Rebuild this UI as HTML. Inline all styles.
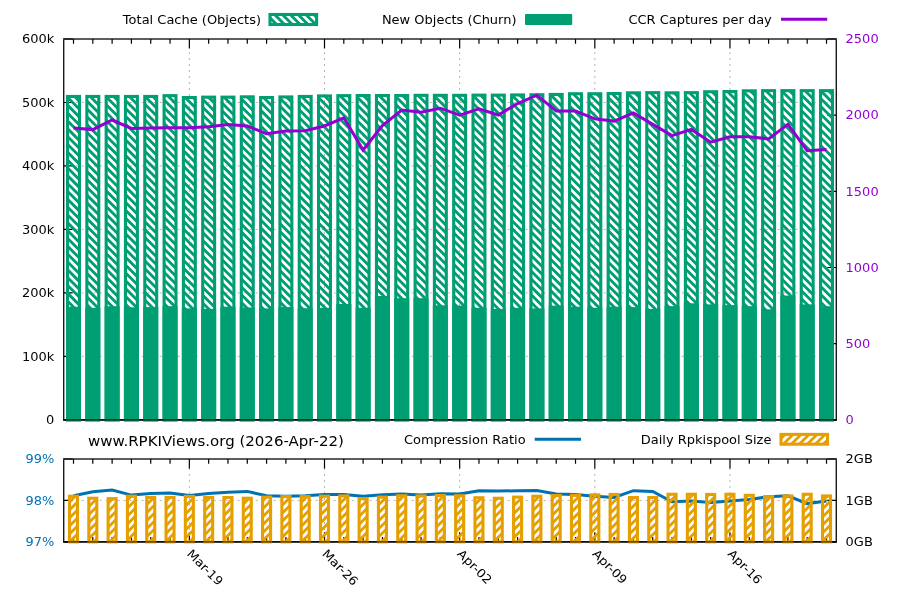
<!DOCTYPE html>
<html lang="en"><head><meta charset="utf-8"><title>RPKIViews statistics</title>
<style>html,body{margin:0;padding:0;background:#fff}svg{display:block}text{font-family:"DejaVu Sans","Liberation Sans",sans-serif;font-size:12px}</style></head><body>
<svg width="900" height="600" viewBox="0 0 900 600">
<defs>
<clipPath id="c1"><rect x="67.55" y="96.45" width="11.9" height="323.40"/><rect x="86.86" y="96.45" width="11.9" height="323.40"/><rect x="106.17" y="96.45" width="11.9" height="323.40"/><rect x="125.47" y="96.45" width="11.9" height="323.40"/><rect x="144.78" y="96.45" width="11.9" height="323.40"/><rect x="164.09" y="95.65" width="11.9" height="324.20"/><rect x="183.40" y="97.55" width="11.9" height="322.30"/><rect x="202.71" y="97.15" width="11.9" height="322.70"/><rect x="222.01" y="97.15" width="11.9" height="322.70"/><rect x="241.32" y="96.85" width="11.9" height="323.00"/><rect x="260.63" y="97.55" width="11.9" height="322.30"/><rect x="279.94" y="96.95" width="11.9" height="322.90"/><rect x="299.25" y="96.45" width="11.9" height="323.40"/><rect x="318.55" y="95.95" width="11.9" height="323.90"/><rect x="337.86" y="95.65" width="11.9" height="324.20"/><rect x="357.17" y="95.55" width="11.9" height="324.30"/><rect x="376.48" y="95.55" width="11.9" height="324.30"/><rect x="395.79" y="95.55" width="11.9" height="324.30"/><rect x="415.09" y="95.35" width="11.9" height="324.50"/><rect x="434.40" y="95.35" width="11.9" height="324.50"/><rect x="453.71" y="95.35" width="11.9" height="324.50"/><rect x="473.02" y="95.15" width="11.9" height="324.70"/><rect x="492.33" y="95.15" width="11.9" height="324.70"/><rect x="511.63" y="94.95" width="11.9" height="324.90"/><rect x="530.94" y="94.75" width="11.9" height="325.10"/><rect x="550.25" y="94.45" width="11.9" height="325.40"/><rect x="569.56" y="93.75" width="11.9" height="326.10"/><rect x="588.87" y="93.75" width="11.9" height="326.10"/><rect x="608.17" y="93.55" width="11.9" height="326.30"/><rect x="627.48" y="92.85" width="11.9" height="327.00"/><rect x="646.79" y="92.65" width="11.9" height="327.20"/><rect x="666.10" y="92.85" width="11.9" height="327.00"/><rect x="685.41" y="92.65" width="11.9" height="327.20"/><rect x="704.71" y="91.75" width="11.9" height="328.10"/><rect x="724.02" y="91.55" width="11.9" height="328.30"/><rect x="743.33" y="90.85" width="11.9" height="329.00"/><rect x="762.64" y="90.65" width="11.9" height="329.20"/><rect x="781.95" y="90.65" width="11.9" height="329.20"/><rect x="801.25" y="90.65" width="11.9" height="329.20"/><rect x="820.56" y="90.65" width="11.9" height="329.20"/></clipPath><clipPath id="c2"><rect x="69.50" y="496.25" width="8.0" height="45.60"/><rect x="88.81" y="498.25" width="8.0" height="43.60"/><rect x="108.12" y="498.65" width="8.0" height="43.20"/><rect x="127.42" y="496.25" width="8.0" height="45.60"/><rect x="146.73" y="497.55" width="8.0" height="44.30"/><rect x="166.04" y="497.55" width="8.0" height="44.30"/><rect x="185.35" y="496.45" width="8.0" height="45.40"/><rect x="204.66" y="497.55" width="8.0" height="44.30"/><rect x="223.96" y="497.55" width="8.0" height="44.30"/><rect x="243.27" y="498.25" width="8.0" height="43.60"/><rect x="262.58" y="497.15" width="8.0" height="44.70"/><rect x="281.89" y="496.65" width="8.0" height="45.20"/><rect x="301.20" y="496.65" width="8.0" height="45.20"/><rect x="320.50" y="496.25" width="8.0" height="45.60"/><rect x="339.81" y="495.95" width="8.0" height="45.90"/><rect x="359.12" y="498.65" width="8.0" height="43.20"/><rect x="378.43" y="497.15" width="8.0" height="44.70"/><rect x="397.74" y="495.75" width="8.0" height="46.10"/><rect x="417.04" y="495.95" width="8.0" height="45.90"/><rect x="436.35" y="495.55" width="8.0" height="46.30"/><rect x="455.66" y="495.75" width="8.0" height="46.10"/><rect x="474.97" y="497.75" width="8.0" height="44.10"/><rect x="494.28" y="498.25" width="8.0" height="43.60"/><rect x="513.58" y="497.15" width="8.0" height="44.70"/><rect x="532.89" y="496.25" width="8.0" height="45.60"/><rect x="552.20" y="495.55" width="8.0" height="46.30"/><rect x="571.51" y="495.35" width="8.0" height="46.50"/><rect x="590.82" y="494.85" width="8.0" height="47.00"/><rect x="610.12" y="494.45" width="8.0" height="47.40"/><rect x="629.43" y="497.55" width="8.0" height="44.30"/><rect x="648.74" y="497.55" width="8.0" height="44.30"/><rect x="668.05" y="494.25" width="8.0" height="47.60"/><rect x="687.36" y="494.25" width="8.0" height="47.60"/><rect x="706.66" y="494.45" width="8.0" height="47.40"/><rect x="725.97" y="494.25" width="8.0" height="47.60"/><rect x="745.28" y="495.35" width="8.0" height="46.50"/><rect x="764.59" y="496.65" width="8.0" height="45.20"/><rect x="783.90" y="495.95" width="8.0" height="45.90"/><rect x="803.20" y="494.25" width="8.0" height="47.60"/><rect x="822.51" y="495.95" width="8.0" height="45.90"/></clipPath>
<clipPath id="c3"><rect x="270" y="14.5" width="46.6" height="10"/></clipPath><clipPath id="c4"><rect x="781" y="434.4" width="46.5" height="9.8"/></clipPath>
</defs>
<rect width="900" height="600" fill="#fff"/>
<g id="grid1" stroke="#b2b2b2" stroke-width="1" stroke-dasharray="2 4" fill="none">
<path d="M75.7,356.38H836.3"/>
<path d="M75.7,292.90H836.3"/>
<path d="M75.7,229.42H836.3"/>
<path d="M75.7,165.95H836.3"/>
<path d="M75.7,102.48H836.3"/>
<path d="M189.35,52.0V409.85"/>
<path d="M324.50,52.0V409.85"/>
<path d="M459.66,52.0V409.85"/>
<path d="M594.82,52.0V409.85"/>
<path d="M729.97,52.0V409.85"/>
</g>
<path id="ticks1" d="M73.50,39.0v4.8M73.50,419.85v-4.8M92.81,39.0v4.8M92.81,419.85v-4.8M112.12,39.0v4.8M112.12,419.85v-4.8M131.42,39.0v4.8M131.42,419.85v-4.8M150.73,39.0v4.8M150.73,419.85v-4.8M170.04,39.0v4.8M170.04,419.85v-4.8M189.35,39.0v9.5M189.35,419.85v-9.5M208.66,39.0v4.8M208.66,419.85v-4.8M227.96,39.0v4.8M227.96,419.85v-4.8M247.27,39.0v4.8M247.27,419.85v-4.8M266.58,39.0v4.8M266.58,419.85v-4.8M285.89,39.0v4.8M285.89,419.85v-4.8M305.20,39.0v4.8M305.20,419.85v-4.8M324.50,39.0v9.5M324.50,419.85v-9.5M343.81,39.0v4.8M343.81,419.85v-4.8M363.12,39.0v4.8M363.12,419.85v-4.8M382.43,39.0v4.8M382.43,419.85v-4.8M401.74,39.0v4.8M401.74,419.85v-4.8M421.04,39.0v4.8M421.04,419.85v-4.8M440.35,39.0v4.8M440.35,419.85v-4.8M459.66,39.0v9.5M459.66,419.85v-9.5M478.97,39.0v4.8M478.97,419.85v-4.8M498.28,39.0v4.8M498.28,419.85v-4.8M517.58,39.0v4.8M517.58,419.85v-4.8M536.89,39.0v4.8M536.89,419.85v-4.8M556.20,39.0v4.8M556.20,419.85v-4.8M575.51,39.0v4.8M575.51,419.85v-4.8M594.82,39.0v9.5M594.82,419.85v-9.5M614.12,39.0v4.8M614.12,419.85v-4.8M633.43,39.0v4.8M633.43,419.85v-4.8M652.74,39.0v4.8M652.74,419.85v-4.8M672.05,39.0v4.8M672.05,419.85v-4.8M691.36,39.0v4.8M691.36,419.85v-4.8M710.66,39.0v4.8M710.66,419.85v-4.8M729.97,39.0v9.5M729.97,419.85v-9.5M749.28,39.0v4.8M749.28,419.85v-4.8M768.59,39.0v4.8M768.59,419.85v-4.8M787.90,39.0v4.8M787.90,419.85v-4.8M807.20,39.0v4.8M807.20,419.85v-4.8M826.51,39.0v4.8M826.51,419.85v-4.8M63.7,419.85h9M63.7,356.38h9M63.7,292.90h9M63.7,229.42h9M63.7,165.95h9M63.7,102.48h9M63.7,39.00h9M836.3,419.85h-9M836.3,343.68h-9M836.3,267.51h-9M836.3,191.34h-9M836.3,115.17h-9M836.3,39.00h-9" stroke="#000" stroke-width="1.2" fill="none"/>
<path d="M63.0,419.85H837.0" stroke="#000" stroke-opacity="0.85" stroke-width="1.7" fill="none"/>
<path d="M832.77,87.10L838.30,92.63M824.94,87.10L838.30,100.46M817.10,87.10L838.30,108.30M809.27,87.10L838.30,116.13M801.44,87.10L838.30,123.96M793.60,87.10L838.30,131.80M785.77,87.10L838.30,139.63M777.94,87.10L838.30,147.46M770.10,87.10L838.30,155.30M762.27,87.10L838.30,163.13M754.44,87.10L838.30,170.96M746.61,87.10L838.30,178.79M738.77,87.10L838.30,186.63M730.94,87.10L838.30,194.46M723.11,87.10L838.30,202.29M715.27,87.10L838.30,210.13M707.44,87.10L838.30,217.96M699.61,87.10L838.30,225.79M691.77,87.10L838.30,233.63M683.94,87.10L838.30,241.46M676.11,87.10L838.30,249.29M668.28,87.10L838.30,257.12M660.44,87.10L838.30,264.96M652.61,87.10L838.30,272.79M644.78,87.10L838.30,280.62M636.94,87.10L838.30,288.46M629.11,87.10L838.30,296.29M621.28,87.10L838.30,304.12M613.44,87.10L838.30,311.96M605.61,87.10L838.30,319.79M597.78,87.10L838.30,327.62M589.95,87.10L838.30,335.45M582.11,87.10L838.30,343.29M574.28,87.10L838.30,351.12M566.45,87.10L838.30,358.95M558.61,87.10L838.30,366.79M550.78,87.10L838.30,374.62M542.95,87.10L838.30,382.45M535.11,87.10L838.30,390.29M527.28,87.10L838.30,398.12M519.45,87.10L838.30,405.95M511.62,87.10L838.30,413.78M503.78,87.10L838.30,421.62M495.95,87.10L830.70,421.85M488.12,87.10L822.87,421.85M480.28,87.10L815.03,421.85M472.45,87.10L807.20,421.85M464.62,87.10L799.37,421.85M456.78,87.10L791.53,421.85M448.95,87.10L783.70,421.85M441.12,87.10L775.87,421.85M433.28,87.10L768.04,421.85M425.45,87.10L760.20,421.85M417.62,87.10L752.37,421.85M409.79,87.10L744.54,421.85M401.95,87.10L736.70,421.85M394.12,87.10L728.87,421.85M386.29,87.10L721.04,421.85M378.45,87.10L713.20,421.85M370.62,87.10L705.37,421.85M362.79,87.10L697.54,421.85M354.96,87.10L689.71,421.85M347.12,87.10L681.87,421.85M339.29,87.10L674.04,421.85M331.46,87.10L666.21,421.85M323.62,87.10L658.37,421.85M315.79,87.10L650.54,421.85M307.96,87.10L642.71,421.85M300.12,87.10L634.87,421.85M292.29,87.10L627.04,421.85M284.46,87.10L619.21,421.85M276.62,87.10L611.38,421.85M268.79,87.10L603.54,421.85M260.96,87.10L595.71,421.85M253.13,87.10L587.88,421.85M245.29,87.10L580.04,421.85M237.46,87.10L572.21,421.85M229.63,87.10L564.38,421.85M221.79,87.10L556.54,421.85M213.96,87.10L548.71,421.85M206.13,87.10L540.88,421.85M198.30,87.10L533.05,421.85M190.46,87.10L525.21,421.85M182.63,87.10L517.38,421.85M174.80,87.10L509.55,421.85M166.96,87.10L501.71,421.85M159.13,87.10L493.88,421.85M151.30,87.10L486.05,421.85M143.46,87.10L478.21,421.85M135.63,87.10L470.38,421.85M127.80,87.10L462.55,421.85M119.97,87.10L454.72,421.85M112.13,87.10L446.88,421.85M104.30,87.10L439.05,421.85M96.47,87.10L431.22,421.85M88.63,87.10L423.38,421.85M80.80,87.10L415.55,421.85M72.97,87.10L407.72,421.85M65.13,87.10L399.88,421.85M61.70,91.50L392.05,421.85M61.70,99.33L384.22,421.85M61.70,107.16L376.39,421.85M61.70,115.00L368.55,421.85M61.70,122.83L360.72,421.85M61.70,130.66L352.89,421.85M61.70,138.50L345.05,421.85M61.70,146.33L337.22,421.85M61.70,154.16L329.39,421.85M61.70,162.00L321.55,421.85M61.70,169.83L313.72,421.85M61.70,177.66L305.89,421.85M61.70,185.50L298.06,421.85M61.70,193.33L290.22,421.85M61.70,201.16L282.39,421.85M61.70,208.99L274.56,421.85M61.70,216.83L266.72,421.85M61.70,224.66L258.89,421.85M61.70,232.49L251.06,421.85M61.70,240.33L243.22,421.85M61.70,248.16L235.39,421.85M61.70,255.99L227.56,421.85M61.70,263.83L219.72,421.85M61.70,271.66L211.89,421.85M61.70,279.49L204.06,421.85M61.70,287.32L196.23,421.85M61.70,295.16L188.39,421.85M61.70,302.99L180.56,421.85M61.70,310.82L172.73,421.85M61.70,318.66L164.89,421.85M61.70,326.49L157.06,421.85M61.70,334.32L149.23,421.85M61.70,342.16L141.39,421.85M61.70,349.99L133.56,421.85M61.70,357.82L125.73,421.85M61.70,365.65L117.90,421.85M61.70,373.49L110.06,421.85M61.70,381.32L102.23,421.85M61.70,389.15L94.40,421.85M61.70,396.99L86.56,421.85M61.70,404.82L78.73,421.85M61.70,412.65L70.90,421.85M61.70,420.49L63.06,421.85" stroke="#009E73" stroke-width="2.85" fill="none" clip-path="url(#c1)"/>
<g id="bars-total">
<rect x="67.55" y="96.45" width="11.9" height="323.40" fill="none" stroke="#009E73" stroke-width="3.1"/>
<rect x="86.86" y="96.45" width="11.9" height="323.40" fill="none" stroke="#009E73" stroke-width="3.1"/>
<rect x="106.17" y="96.45" width="11.9" height="323.40" fill="none" stroke="#009E73" stroke-width="3.1"/>
<rect x="125.47" y="96.45" width="11.9" height="323.40" fill="none" stroke="#009E73" stroke-width="3.1"/>
<rect x="144.78" y="96.45" width="11.9" height="323.40" fill="none" stroke="#009E73" stroke-width="3.1"/>
<rect x="164.09" y="95.65" width="11.9" height="324.20" fill="none" stroke="#009E73" stroke-width="3.1"/>
<rect x="183.40" y="97.55" width="11.9" height="322.30" fill="none" stroke="#009E73" stroke-width="3.1"/>
<rect x="202.71" y="97.15" width="11.9" height="322.70" fill="none" stroke="#009E73" stroke-width="3.1"/>
<rect x="222.01" y="97.15" width="11.9" height="322.70" fill="none" stroke="#009E73" stroke-width="3.1"/>
<rect x="241.32" y="96.85" width="11.9" height="323.00" fill="none" stroke="#009E73" stroke-width="3.1"/>
<rect x="260.63" y="97.55" width="11.9" height="322.30" fill="none" stroke="#009E73" stroke-width="3.1"/>
<rect x="279.94" y="96.95" width="11.9" height="322.90" fill="none" stroke="#009E73" stroke-width="3.1"/>
<rect x="299.25" y="96.45" width="11.9" height="323.40" fill="none" stroke="#009E73" stroke-width="3.1"/>
<rect x="318.55" y="95.95" width="11.9" height="323.90" fill="none" stroke="#009E73" stroke-width="3.1"/>
<rect x="337.86" y="95.65" width="11.9" height="324.20" fill="none" stroke="#009E73" stroke-width="3.1"/>
<rect x="357.17" y="95.55" width="11.9" height="324.30" fill="none" stroke="#009E73" stroke-width="3.1"/>
<rect x="376.48" y="95.55" width="11.9" height="324.30" fill="none" stroke="#009E73" stroke-width="3.1"/>
<rect x="395.79" y="95.55" width="11.9" height="324.30" fill="none" stroke="#009E73" stroke-width="3.1"/>
<rect x="415.09" y="95.35" width="11.9" height="324.50" fill="none" stroke="#009E73" stroke-width="3.1"/>
<rect x="434.40" y="95.35" width="11.9" height="324.50" fill="none" stroke="#009E73" stroke-width="3.1"/>
<rect x="453.71" y="95.35" width="11.9" height="324.50" fill="none" stroke="#009E73" stroke-width="3.1"/>
<rect x="473.02" y="95.15" width="11.9" height="324.70" fill="none" stroke="#009E73" stroke-width="3.1"/>
<rect x="492.33" y="95.15" width="11.9" height="324.70" fill="none" stroke="#009E73" stroke-width="3.1"/>
<rect x="511.63" y="94.95" width="11.9" height="324.90" fill="none" stroke="#009E73" stroke-width="3.1"/>
<rect x="530.94" y="94.75" width="11.9" height="325.10" fill="none" stroke="#009E73" stroke-width="3.1"/>
<rect x="550.25" y="94.45" width="11.9" height="325.40" fill="none" stroke="#009E73" stroke-width="3.1"/>
<rect x="569.56" y="93.75" width="11.9" height="326.10" fill="none" stroke="#009E73" stroke-width="3.1"/>
<rect x="588.87" y="93.75" width="11.9" height="326.10" fill="none" stroke="#009E73" stroke-width="3.1"/>
<rect x="608.17" y="93.55" width="11.9" height="326.30" fill="none" stroke="#009E73" stroke-width="3.1"/>
<rect x="627.48" y="92.85" width="11.9" height="327.00" fill="none" stroke="#009E73" stroke-width="3.1"/>
<rect x="646.79" y="92.65" width="11.9" height="327.20" fill="none" stroke="#009E73" stroke-width="3.1"/>
<rect x="666.10" y="92.85" width="11.9" height="327.00" fill="none" stroke="#009E73" stroke-width="3.1"/>
<rect x="685.41" y="92.65" width="11.9" height="327.20" fill="none" stroke="#009E73" stroke-width="3.1"/>
<rect x="704.71" y="91.75" width="11.9" height="328.10" fill="none" stroke="#009E73" stroke-width="3.1"/>
<rect x="724.02" y="91.55" width="11.9" height="328.30" fill="none" stroke="#009E73" stroke-width="3.1"/>
<rect x="743.33" y="90.85" width="11.9" height="329.00" fill="none" stroke="#009E73" stroke-width="3.1"/>
<rect x="762.64" y="90.65" width="11.9" height="329.20" fill="none" stroke="#009E73" stroke-width="3.1"/>
<rect x="781.95" y="90.65" width="11.9" height="329.20" fill="none" stroke="#009E73" stroke-width="3.1"/>
<rect x="801.25" y="90.65" width="11.9" height="329.20" fill="none" stroke="#009E73" stroke-width="3.1"/>
<rect x="820.56" y="90.65" width="11.9" height="329.20" fill="none" stroke="#009E73" stroke-width="3.1"/>
</g><g id="bars-churn">
<rect x="67.55" y="308.25" width="11.9" height="111.60" fill="#009E73" stroke="#009E73" stroke-width="3.1"/>
<rect x="86.86" y="309.35" width="11.9" height="110.50" fill="#009E73" stroke="#009E73" stroke-width="3.1"/>
<rect x="106.17" y="307.75" width="11.9" height="112.10" fill="#009E73" stroke="#009E73" stroke-width="3.1"/>
<rect x="125.47" y="308.85" width="11.9" height="111.00" fill="#009E73" stroke="#009E73" stroke-width="3.1"/>
<rect x="144.78" y="308.65" width="11.9" height="111.20" fill="#009E73" stroke="#009E73" stroke-width="3.1"/>
<rect x="164.09" y="307.75" width="11.9" height="112.10" fill="#009E73" stroke="#009E73" stroke-width="3.1"/>
<rect x="183.40" y="309.95" width="11.9" height="109.90" fill="#009E73" stroke="#009E73" stroke-width="3.1"/>
<rect x="202.71" y="310.45" width="11.9" height="109.40" fill="#009E73" stroke="#009E73" stroke-width="3.1"/>
<rect x="222.01" y="308.25" width="11.9" height="111.60" fill="#009E73" stroke="#009E73" stroke-width="3.1"/>
<rect x="241.32" y="309.05" width="11.9" height="110.80" fill="#009E73" stroke="#009E73" stroke-width="3.1"/>
<rect x="260.63" y="309.95" width="11.9" height="109.90" fill="#009E73" stroke="#009E73" stroke-width="3.1"/>
<rect x="279.94" y="308.65" width="11.9" height="111.20" fill="#009E73" stroke="#009E73" stroke-width="3.1"/>
<rect x="299.25" y="309.75" width="11.9" height="110.10" fill="#009E73" stroke="#009E73" stroke-width="3.1"/>
<rect x="318.55" y="309.35" width="11.9" height="110.50" fill="#009E73" stroke="#009E73" stroke-width="3.1"/>
<rect x="337.86" y="305.55" width="11.9" height="114.30" fill="#009E73" stroke="#009E73" stroke-width="3.1"/>
<rect x="357.17" y="309.35" width="11.9" height="110.50" fill="#009E73" stroke="#009E73" stroke-width="3.1"/>
<rect x="376.48" y="297.55" width="11.9" height="122.30" fill="#009E73" stroke="#009E73" stroke-width="3.1"/>
<rect x="395.79" y="299.75" width="11.9" height="120.10" fill="#009E73" stroke="#009E73" stroke-width="3.1"/>
<rect x="415.09" y="299.75" width="11.9" height="120.10" fill="#009E73" stroke="#009E73" stroke-width="3.1"/>
<rect x="434.40" y="306.85" width="11.9" height="113.00" fill="#009E73" stroke="#009E73" stroke-width="3.1"/>
<rect x="453.71" y="307.15" width="11.9" height="112.70" fill="#009E73" stroke="#009E73" stroke-width="3.1"/>
<rect x="473.02" y="309.35" width="11.9" height="110.50" fill="#009E73" stroke="#009E73" stroke-width="3.1"/>
<rect x="492.33" y="310.45" width="11.9" height="109.40" fill="#009E73" stroke="#009E73" stroke-width="3.1"/>
<rect x="511.63" y="309.35" width="11.9" height="110.50" fill="#009E73" stroke="#009E73" stroke-width="3.1"/>
<rect x="530.94" y="309.95" width="11.9" height="109.90" fill="#009E73" stroke="#009E73" stroke-width="3.1"/>
<rect x="550.25" y="307.15" width="11.9" height="112.70" fill="#009E73" stroke="#009E73" stroke-width="3.1"/>
<rect x="569.56" y="308.25" width="11.9" height="111.60" fill="#009E73" stroke="#009E73" stroke-width="3.1"/>
<rect x="588.87" y="309.35" width="11.9" height="110.50" fill="#009E73" stroke="#009E73" stroke-width="3.1"/>
<rect x="608.17" y="308.25" width="11.9" height="111.60" fill="#009E73" stroke="#009E73" stroke-width="3.1"/>
<rect x="627.48" y="308.65" width="11.9" height="111.20" fill="#009E73" stroke="#009E73" stroke-width="3.1"/>
<rect x="646.79" y="310.45" width="11.9" height="109.40" fill="#009E73" stroke="#009E73" stroke-width="3.1"/>
<rect x="666.10" y="307.75" width="11.9" height="112.10" fill="#009E73" stroke="#009E73" stroke-width="3.1"/>
<rect x="685.41" y="304.85" width="11.9" height="115.00" fill="#009E73" stroke="#009E73" stroke-width="3.1"/>
<rect x="704.71" y="305.95" width="11.9" height="113.90" fill="#009E73" stroke="#009E73" stroke-width="3.1"/>
<rect x="724.02" y="306.65" width="11.9" height="113.20" fill="#009E73" stroke="#009E73" stroke-width="3.1"/>
<rect x="743.33" y="307.75" width="11.9" height="112.10" fill="#009E73" stroke="#009E73" stroke-width="3.1"/>
<rect x="762.64" y="310.85" width="11.9" height="109.00" fill="#009E73" stroke="#009E73" stroke-width="3.1"/>
<rect x="781.95" y="297.15" width="11.9" height="122.70" fill="#009E73" stroke="#009E73" stroke-width="3.1"/>
<rect x="801.25" y="305.95" width="11.9" height="113.90" fill="#009E73" stroke="#009E73" stroke-width="3.1"/>
<rect x="820.56" y="307.75" width="11.9" height="112.10" fill="#009E73" stroke="#009E73" stroke-width="3.1"/>
</g>
<polyline points="73.50,128.00 92.81,129.60 112.12,120.00 131.42,128.40 150.73,128.00 170.04,127.80 189.35,127.80 208.66,126.70 227.96,124.40 247.27,126.00 266.58,133.80 285.89,131.10 305.20,130.70 324.50,126.00 343.81,117.80 363.12,150.00 382.43,125.60 401.74,110.00 421.04,112.20 440.35,108.20 459.66,115.10 478.97,108.90 498.28,115.00 517.58,103.50 536.89,95.20 556.20,111.10 575.51,111.10 594.82,118.90 614.12,121.10 633.43,112.90 652.74,124.40 672.05,135.60 691.36,129.40 710.66,142.20 729.97,136.70 749.28,136.70 768.59,138.90 787.90,124.40 807.20,150.70 826.51,149.60" fill="none" stroke="#9400D3" stroke-width="3" stroke-linejoin="miter"/>
<path d="M63.0,39.0H837.0" stroke="#000" stroke-opacity="0.85" stroke-width="1.7" fill="none"/>
<path d="M63.0,419.85H837.0" stroke="#000" stroke-opacity="0.6" stroke-width="1.7" fill="none"/>
<path d="M63.7,39.85V419.0M836.3,39.85V419.0" stroke="#000" stroke-opacity="0.9" stroke-width="1.4" fill="none"/>
<g id="grid2" stroke="#b2b2b2" stroke-width="1" stroke-dasharray="2 4" fill="none">
<path d="M75.7,500.43H836.3"/>
<path d="M189.35,467.9V531.85"/>
<path d="M324.50,467.9V531.85"/>
<path d="M459.66,467.9V531.85"/>
<path d="M594.82,467.9V531.85"/>
<path d="M729.97,467.9V531.85"/>
</g>
<path id="ticks2" d="M73.50,459.0v4.8M73.50,541.85v-4.8M92.81,459.0v4.8M92.81,541.85v-4.8M112.12,459.0v4.8M112.12,541.85v-4.8M131.42,459.0v4.8M131.42,541.85v-4.8M150.73,459.0v4.8M150.73,541.85v-4.8M170.04,459.0v4.8M170.04,541.85v-4.8M189.35,459.0v9.5M189.35,541.85v-9.5M208.66,459.0v4.8M208.66,541.85v-4.8M227.96,459.0v4.8M227.96,541.85v-4.8M247.27,459.0v4.8M247.27,541.85v-4.8M266.58,459.0v4.8M266.58,541.85v-4.8M285.89,459.0v4.8M285.89,541.85v-4.8M305.20,459.0v4.8M305.20,541.85v-4.8M324.50,459.0v9.5M324.50,541.85v-9.5M343.81,459.0v4.8M343.81,541.85v-4.8M363.12,459.0v4.8M363.12,541.85v-4.8M382.43,459.0v4.8M382.43,541.85v-4.8M401.74,459.0v4.8M401.74,541.85v-4.8M421.04,459.0v4.8M421.04,541.85v-4.8M440.35,459.0v4.8M440.35,541.85v-4.8M459.66,459.0v9.5M459.66,541.85v-9.5M478.97,459.0v4.8M478.97,541.85v-4.8M498.28,459.0v4.8M498.28,541.85v-4.8M517.58,459.0v4.8M517.58,541.85v-4.8M536.89,459.0v4.8M536.89,541.85v-4.8M556.20,459.0v4.8M556.20,541.85v-4.8M575.51,459.0v4.8M575.51,541.85v-4.8M594.82,459.0v9.5M594.82,541.85v-9.5M614.12,459.0v4.8M614.12,541.85v-4.8M633.43,459.0v4.8M633.43,541.85v-4.8M652.74,459.0v4.8M652.74,541.85v-4.8M672.05,459.0v4.8M672.05,541.85v-4.8M691.36,459.0v4.8M691.36,541.85v-4.8M710.66,459.0v4.8M710.66,541.85v-4.8M729.97,459.0v9.5M729.97,541.85v-9.5M749.28,459.0v4.8M749.28,541.85v-4.8M768.59,459.0v4.8M768.59,541.85v-4.8M787.90,459.0v4.8M787.90,541.85v-4.8M807.20,459.0v4.8M807.20,541.85v-4.8M826.51,459.0v4.8M826.51,541.85v-4.8M63.7,541.85h9M63.7,500.43h9M63.7,459.00h9M836.3,541.85h-9M836.3,500.43h-9M836.3,459.00h-9" stroke="#000" stroke-width="1.2" fill="none"/>
<path d="M63.0,541.85H837.0" stroke="#000" stroke-opacity="0.85" stroke-width="1.7" fill="none"/>
<polyline points="73.50,495.80 92.81,491.80 112.12,490.00 131.42,495.10 150.73,493.60 170.04,492.90 189.35,495.40 208.66,493.40 227.96,492.30 247.27,491.40 266.58,495.80 285.89,496.30 305.20,495.80 324.50,494.50 343.81,494.50 363.12,496.30 382.43,494.70 401.74,494.00 421.04,495.10 440.35,493.80 459.66,494.00 478.97,490.70 498.28,491.10 517.58,490.70 536.89,490.50 556.20,494.00 575.51,494.50 594.82,496.30 614.12,497.40 633.43,490.70 652.74,491.40 672.05,501.80 691.36,501.10 710.66,502.50 729.97,501.10 749.28,499.60 768.59,496.70 787.90,495.80 807.20,503.60 826.51,501.10" fill="none" stroke="#0072B2" stroke-width="3" stroke-linejoin="miter"/>
<path d="M61.70,493.80L64.80,490.70M61.70,501.80L72.80,490.70M61.70,509.80L80.80,490.70M61.70,517.80L88.80,490.70M61.70,525.80L96.80,490.70M61.70,533.80L104.80,490.70M61.70,541.80L112.80,490.70M67.65,543.85L120.80,490.70M75.65,543.85L128.80,490.70M83.65,543.85L136.80,490.70M91.65,543.85L144.80,490.70M99.65,543.85L152.80,490.70M107.65,543.85L160.80,490.70M115.65,543.85L168.80,490.70M123.65,543.85L176.80,490.70M131.65,543.85L184.80,490.70M139.65,543.85L192.80,490.70M147.65,543.85L200.80,490.70M155.65,543.85L208.80,490.70M163.65,543.85L216.80,490.70M171.65,543.85L224.80,490.70M179.65,543.85L232.80,490.70M187.65,543.85L240.80,490.70M195.65,543.85L248.80,490.70M203.65,543.85L256.80,490.70M211.65,543.85L264.80,490.70M219.65,543.85L272.80,490.70M227.65,543.85L280.80,490.70M235.65,543.85L288.80,490.70M243.65,543.85L296.80,490.70M251.65,543.85L304.80,490.70M259.65,543.85L312.80,490.70M267.65,543.85L320.80,490.70M275.65,543.85L328.80,490.70M283.65,543.85L336.80,490.70M291.65,543.85L344.80,490.70M299.65,543.85L352.80,490.70M307.65,543.85L360.80,490.70M315.65,543.85L368.80,490.70M323.65,543.85L376.80,490.70M331.65,543.85L384.80,490.70M339.65,543.85L392.80,490.70M347.65,543.85L400.80,490.70M355.65,543.85L408.80,490.70M363.65,543.85L416.80,490.70M371.65,543.85L424.80,490.70M379.65,543.85L432.80,490.70M387.65,543.85L440.80,490.70M395.65,543.85L448.80,490.70M403.65,543.85L456.80,490.70M411.65,543.85L464.80,490.70M419.65,543.85L472.80,490.70M427.65,543.85L480.80,490.70M435.65,543.85L488.80,490.70M443.65,543.85L496.80,490.70M451.65,543.85L504.80,490.70M459.65,543.85L512.80,490.70M467.65,543.85L520.80,490.70M475.65,543.85L528.80,490.70M483.65,543.85L536.80,490.70M491.65,543.85L544.80,490.70M499.65,543.85L552.80,490.70M507.65,543.85L560.80,490.70M515.65,543.85L568.80,490.70M523.65,543.85L576.80,490.70M531.65,543.85L584.80,490.70M539.65,543.85L592.80,490.70M547.65,543.85L600.80,490.70M555.65,543.85L608.80,490.70M563.65,543.85L616.80,490.70M571.65,543.85L624.80,490.70M579.65,543.85L632.80,490.70M587.65,543.85L640.80,490.70M595.65,543.85L648.80,490.70M603.65,543.85L656.80,490.70M611.65,543.85L664.80,490.70M619.65,543.85L672.80,490.70M627.65,543.85L680.80,490.70M635.65,543.85L688.80,490.70M643.65,543.85L696.80,490.70M651.65,543.85L704.80,490.70M659.65,543.85L712.80,490.70M667.65,543.85L720.80,490.70M675.65,543.85L728.80,490.70M683.65,543.85L736.80,490.70M691.65,543.85L744.80,490.70M699.65,543.85L752.80,490.70M707.65,543.85L760.80,490.70M715.65,543.85L768.80,490.70M723.65,543.85L776.80,490.70M731.65,543.85L784.80,490.70M739.65,543.85L792.80,490.70M747.65,543.85L800.80,490.70M755.65,543.85L808.80,490.70M763.65,543.85L816.80,490.70M771.65,543.85L824.80,490.70M779.65,543.85L832.80,490.70M787.65,543.85L838.30,493.20M795.65,543.85L838.30,501.20M803.65,543.85L838.30,509.20M811.65,543.85L838.30,517.20M819.65,543.85L838.30,525.20M827.65,543.85L838.30,533.20M835.65,543.85L838.30,541.20" stroke="#E69F00" stroke-width="2.75" fill="none" clip-path="url(#c2)"/>
<g id="bars-spool">
<rect x="69.50" y="496.25" width="8.0" height="45.60" fill="none" stroke="#E69F00" stroke-width="3.1"/>
<rect x="88.81" y="498.25" width="8.0" height="43.60" fill="none" stroke="#E69F00" stroke-width="3.1"/>
<rect x="108.12" y="498.65" width="8.0" height="43.20" fill="none" stroke="#E69F00" stroke-width="3.1"/>
<rect x="127.42" y="496.25" width="8.0" height="45.60" fill="none" stroke="#E69F00" stroke-width="3.1"/>
<rect x="146.73" y="497.55" width="8.0" height="44.30" fill="none" stroke="#E69F00" stroke-width="3.1"/>
<rect x="166.04" y="497.55" width="8.0" height="44.30" fill="none" stroke="#E69F00" stroke-width="3.1"/>
<rect x="185.35" y="496.45" width="8.0" height="45.40" fill="none" stroke="#E69F00" stroke-width="3.1"/>
<rect x="204.66" y="497.55" width="8.0" height="44.30" fill="none" stroke="#E69F00" stroke-width="3.1"/>
<rect x="223.96" y="497.55" width="8.0" height="44.30" fill="none" stroke="#E69F00" stroke-width="3.1"/>
<rect x="243.27" y="498.25" width="8.0" height="43.60" fill="none" stroke="#E69F00" stroke-width="3.1"/>
<rect x="262.58" y="497.15" width="8.0" height="44.70" fill="none" stroke="#E69F00" stroke-width="3.1"/>
<rect x="281.89" y="496.65" width="8.0" height="45.20" fill="none" stroke="#E69F00" stroke-width="3.1"/>
<rect x="301.20" y="496.65" width="8.0" height="45.20" fill="none" stroke="#E69F00" stroke-width="3.1"/>
<rect x="320.50" y="496.25" width="8.0" height="45.60" fill="none" stroke="#E69F00" stroke-width="3.1"/>
<rect x="339.81" y="495.95" width="8.0" height="45.90" fill="none" stroke="#E69F00" stroke-width="3.1"/>
<rect x="359.12" y="498.65" width="8.0" height="43.20" fill="none" stroke="#E69F00" stroke-width="3.1"/>
<rect x="378.43" y="497.15" width="8.0" height="44.70" fill="none" stroke="#E69F00" stroke-width="3.1"/>
<rect x="397.74" y="495.75" width="8.0" height="46.10" fill="none" stroke="#E69F00" stroke-width="3.1"/>
<rect x="417.04" y="495.95" width="8.0" height="45.90" fill="none" stroke="#E69F00" stroke-width="3.1"/>
<rect x="436.35" y="495.55" width="8.0" height="46.30" fill="none" stroke="#E69F00" stroke-width="3.1"/>
<rect x="455.66" y="495.75" width="8.0" height="46.10" fill="none" stroke="#E69F00" stroke-width="3.1"/>
<rect x="474.97" y="497.75" width="8.0" height="44.10" fill="none" stroke="#E69F00" stroke-width="3.1"/>
<rect x="494.28" y="498.25" width="8.0" height="43.60" fill="none" stroke="#E69F00" stroke-width="3.1"/>
<rect x="513.58" y="497.15" width="8.0" height="44.70" fill="none" stroke="#E69F00" stroke-width="3.1"/>
<rect x="532.89" y="496.25" width="8.0" height="45.60" fill="none" stroke="#E69F00" stroke-width="3.1"/>
<rect x="552.20" y="495.55" width="8.0" height="46.30" fill="none" stroke="#E69F00" stroke-width="3.1"/>
<rect x="571.51" y="495.35" width="8.0" height="46.50" fill="none" stroke="#E69F00" stroke-width="3.1"/>
<rect x="590.82" y="494.85" width="8.0" height="47.00" fill="none" stroke="#E69F00" stroke-width="3.1"/>
<rect x="610.12" y="494.45" width="8.0" height="47.40" fill="none" stroke="#E69F00" stroke-width="3.1"/>
<rect x="629.43" y="497.55" width="8.0" height="44.30" fill="none" stroke="#E69F00" stroke-width="3.1"/>
<rect x="648.74" y="497.55" width="8.0" height="44.30" fill="none" stroke="#E69F00" stroke-width="3.1"/>
<rect x="668.05" y="494.25" width="8.0" height="47.60" fill="none" stroke="#E69F00" stroke-width="3.1"/>
<rect x="687.36" y="494.25" width="8.0" height="47.60" fill="none" stroke="#E69F00" stroke-width="3.1"/>
<rect x="706.66" y="494.45" width="8.0" height="47.40" fill="none" stroke="#E69F00" stroke-width="3.1"/>
<rect x="725.97" y="494.25" width="8.0" height="47.60" fill="none" stroke="#E69F00" stroke-width="3.1"/>
<rect x="745.28" y="495.35" width="8.0" height="46.50" fill="none" stroke="#E69F00" stroke-width="3.1"/>
<rect x="764.59" y="496.65" width="8.0" height="45.20" fill="none" stroke="#E69F00" stroke-width="3.1"/>
<rect x="783.90" y="495.95" width="8.0" height="45.90" fill="none" stroke="#E69F00" stroke-width="3.1"/>
<rect x="803.20" y="494.25" width="8.0" height="47.60" fill="none" stroke="#E69F00" stroke-width="3.1"/>
<rect x="822.51" y="495.95" width="8.0" height="45.90" fill="none" stroke="#E69F00" stroke-width="3.1"/>
</g>
<path d="M63.0,459.0H837.0" stroke="#000" stroke-opacity="0.85" stroke-width="1.7" fill="none"/>
<path d="M63.0,541.85H837.0" stroke="#000" stroke-opacity="0.5" stroke-width="1.7" fill="none"/>
<path d="M63.7,459.85V541.0M836.3,459.85V541.0" stroke="#000" stroke-opacity="0.9" stroke-width="1.4" fill="none"/>
<text transform="translate(54.3,424.05) scale(1.082,1)" text-anchor="end" fill="#000" style="font-size:12px">0</text>
<text transform="translate(54.3,360.57) scale(1.082,1)" text-anchor="end" fill="#000" style="font-size:12px">100k</text>
<text transform="translate(54.3,297.10) scale(1.082,1)" text-anchor="end" fill="#000" style="font-size:12px">200k</text>
<text transform="translate(54.3,233.62) scale(1.082,1)" text-anchor="end" fill="#000" style="font-size:12px">300k</text>
<text transform="translate(54.3,170.15) scale(1.082,1)" text-anchor="end" fill="#000" style="font-size:12px">400k</text>
<text transform="translate(54.3,106.68) scale(1.082,1)" text-anchor="end" fill="#000" style="font-size:12px">500k</text>
<text transform="translate(54.3,43.20) scale(1.082,1)" text-anchor="end" fill="#000" style="font-size:12px">600k</text>
<text transform="translate(845.6,424.05) scale(1.082,1)" text-anchor="start" fill="#9400D3" style="font-size:12px">0</text>
<text transform="translate(845.6,347.88) scale(1.082,1)" text-anchor="start" fill="#9400D3" style="font-size:12px">500</text>
<text transform="translate(845.6,271.71) scale(1.082,1)" text-anchor="start" fill="#9400D3" style="font-size:12px">1000</text>
<text transform="translate(845.6,195.54) scale(1.082,1)" text-anchor="start" fill="#9400D3" style="font-size:12px">1500</text>
<text transform="translate(845.6,119.37) scale(1.082,1)" text-anchor="start" fill="#9400D3" style="font-size:12px">2000</text>
<text transform="translate(845.6,43.20) scale(1.082,1)" text-anchor="start" fill="#9400D3" style="font-size:12px">2500</text>
<text transform="translate(54.3,546.05) scale(1.082,1)" text-anchor="end" fill="#0072B2" style="font-size:12px">97%</text>
<text transform="translate(54.3,504.62) scale(1.082,1)" text-anchor="end" fill="#0072B2" style="font-size:12px">98%</text>
<text transform="translate(54.3,463.20) scale(1.082,1)" text-anchor="end" fill="#0072B2" style="font-size:12px">99%</text>
<text transform="translate(845.6,546.05) scale(1.082,1)" text-anchor="start" fill="#000" style="font-size:12px">0GB</text>
<text transform="translate(845.6,504.62) scale(1.082,1)" text-anchor="start" fill="#000" style="font-size:12px">1GB</text>
<text transform="translate(845.6,463.20) scale(1.082,1)" text-anchor="start" fill="#000" style="font-size:12px">2GB</text>
<text transform="translate(261.0,23.5) scale(1.082,1)" text-anchor="end" fill="#000" style="font-size:12px">Total Cache (Objects)</text>
<path d="M317.02,10.00L321.00,13.98M309.19,10.00L321.00,21.81M301.35,10.00L320.35,29.00M293.52,10.00L312.52,29.00M285.69,10.00L304.69,29.00M277.86,10.00L296.86,29.00M270.02,10.00L289.02,29.00M266.00,13.81L281.19,29.00M266.00,21.64L273.36,29.00" stroke="#009E73" stroke-width="2.85" fill="none" clip-path="url(#c3)"/>
<rect x="270" y="14.5" width="46.6" height="10" fill="none" stroke="#009E73" stroke-width="3.1"/>
<text transform="translate(516.5,23.5) scale(1.082,1)" text-anchor="end" fill="#000" style="font-size:12px">New Objects (Churn)</text>
<rect x="526" y="15" width="45.2" height="9" fill="#009E73" stroke="#009E73" stroke-width="2" stroke-linejoin="round"/>
<text transform="translate(771.8,23.5) scale(1.082,1)" text-anchor="end" fill="#000" style="font-size:12px">CCR Captures per day</text>
<path d="M781,19.3H827.2" stroke="#9400D3" stroke-width="3"/>
<text transform="translate(88,445.8) scale(1.072,1)" text-anchor="start" fill="#000" style="font-size:14px">www.RPKIViews.org (2026-Apr-22)</text>
<text transform="translate(525.6,443.6) scale(1.082,1)" text-anchor="end" fill="#000" style="font-size:12px">Compression Ratio</text>
<path d="M534.7,439.3H581" stroke="#0072B2" stroke-width="3"/>
<text transform="translate(771.4,443.6) scale(1.082,1)" text-anchor="end" fill="#000" style="font-size:12px">Daily Rpkispool Size</text>
<path d="M777.00,434.50L781.50,430.00M777.00,442.50L789.50,430.00M778.50,449.00L797.50,430.00M786.50,449.00L805.50,430.00M794.50,449.00L813.50,430.00M802.50,449.00L821.50,430.00M810.50,449.00L829.50,430.00M818.50,449.00L832.00,435.50M826.50,449.00L832.00,443.50" stroke="#E69F00" stroke-width="2.75" fill="none" clip-path="url(#c4)"/>
<rect x="781" y="434.4" width="46.5" height="9.8" fill="none" stroke="#E69F00" stroke-width="3.1"/>
<text transform="translate(186.30,554.6) rotate(45) scale(1.082,1)" fill="#000">Mar-19</text>
<text transform="translate(321.45,554.6) rotate(45) scale(1.082,1)" fill="#000">Mar-26</text>
<text transform="translate(456.61,554.6) rotate(45) scale(1.082,1)" fill="#000">Apr-02</text>
<text transform="translate(591.77,554.6) rotate(45) scale(1.082,1)" fill="#000">Apr-09</text>
<text transform="translate(726.92,554.6) rotate(45) scale(1.082,1)" fill="#000">Apr-16</text>
</svg></body></html>
